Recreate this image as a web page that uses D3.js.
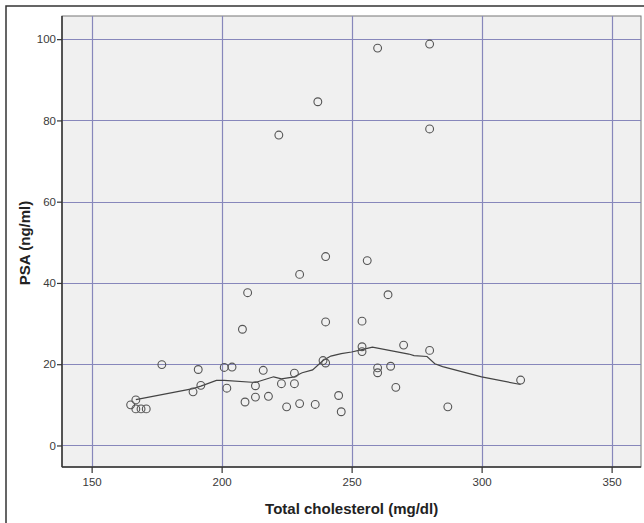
<!DOCTYPE html>
<html>
<head>
<meta charset="utf-8">
<script src="https://cdn.jsdelivr.net/npm/d3@7"></script>
<style>
  body { margin: 0; background: #fff; }
  svg { display: block; }
</style>
</head>
<body>
<div id="chart"></div>
<script>
// scatter points (cholesterol, PSA)
var cholesterol = [260, 280, 237, 222, 280, 240, 256, 230, 210, 264, 208, 240, 254, 270, 254, 254, 280,
    239, 240, 177, 191, 201, 204, 216, 228, 260, 260, 265, 192, 189, 202, 213, 223, 228, 267, 315,
    209, 213, 218, 225, 230, 236, 245, 246, 287, 165, 167, 167, 169, 171];
var psa = [97.8, 98.8, 84.6, 76.4, 77.9, 46.5, 45.5, 42.1, 37.6, 37.1, 28.6, 30.4, 30.6, 24.7, 24.3, 23.1, 23.4,
    20.9, 20.3, 19.9, 18.7, 19.2, 19.3, 18.5, 17.8, 19.1, 17.9, 19.5, 14.8, 13.2, 14.1, 14.7, 15.2, 15.2, 14.3, 16.1,
    10.7, 11.9, 12.1, 9.5, 10.3, 10.1, 12.3, 8.3, 9.5, 10.0, 11.2, 9.0, 9.0, 9.0];

// fit line
var fitX = [167, 172, 189, 192, 198, 201, 213, 216, 220, 223, 228, 230, 231, 235, 239, 242, 246, 250,
    254, 258, 272, 274, 279, 282, 285, 300, 315];
var fitY = [11.3, 11.9, 14.0, 14.6, 16.0, 16.0, 15.5, 16.1, 16.9, 16.4, 16.9, 17.6, 17.9, 18.6, 20.9, 22.0,
    22.6, 23.0, 23.6, 24.2, 22.5, 22.1, 21.9, 20.1, 19.4, 16.9, 15.0];

var xTicks = [150, 200, 250, 300, 350];
var yTicks = [0, 20, 40, 60, 80, 100];

var width = 644, height = 523;
var plotL = 62, plotR = 641, plotT = 16, plotB = 467;

var svg = d3.select("#chart").append("svg")
    .attr("width", width)
    .attr("height", height);

// outer frame
svg.append("rect")
    .attr("x", 6).attr("y", 6)
    .attr("width", 650).attr("height", 530)
    .attr("fill", "#fff")
    .attr("stroke", "#333")
    .attr("stroke-width", 1.5);

var x = d3.scaleLinear().domain([138.6, 361.3]).range([plotL, plotR]);
var y = d3.scaleLinear().domain([-5.3, 105.7]).range([plotB, plotT]);
var snap = v => Math.round(v) + 0.5;

svg.append("rect")
    .attr("x", plotL).attr("y", plotT)
    .attr("width", plotR - plotL).attr("height", plotB - plotT)
    .attr("fill", "#f0f0f0")
    .attr("stroke", "#777")
    .attr("stroke-width", 1);

// grid
svg.append("g").selectAll("line")
    .data(xTicks).enter().append("line")
    .attr("x1", d => snap(x(d))).attr("x2", d => snap(x(d)))
    .attr("y1", plotT).attr("y2", plotB)
    .attr("stroke", "#8787bb").attr("stroke-width", 1.2);

svg.append("g").selectAll("line")
    .data(yTicks).enter().append("line")
    .attr("x1", plotL).attr("x2", plotR)
    .attr("y1", d => snap(y(d))).attr("y2", d => snap(y(d)))
    .attr("stroke", "#8787bb").attr("stroke-width", 1.2);

// axes
var xAxis = svg.append("g")
    .attr("transform", "translate(0," + plotB + ")")
    .call(d3.axisBottom(x).tickValues(xTicks).tickSize(6).tickPadding(5));
var yAxis = svg.append("g")
    .attr("transform", "translate(" + plotL + ",0)")
    .call(d3.axisLeft(y).tickValues(yTicks).tickSize(5).tickPadding(1));

[xAxis, yAxis].forEach(function (g) {
    g.select(".domain").attr("stroke", "#333").attr("stroke-width", 1.5);
    g.selectAll(".tick line").attr("stroke", "#333").attr("stroke-width", 1.2);
    g.selectAll(".tick text")
        .attr("fill", "#3a3a3a")
        .style("font-family", "Liberation Sans, Arial, sans-serif")
        .style("font-size", "11.5px");
});
xAxis.select(".domain").attr("d", "M" + plotL + ",0H" + plotR);
yAxis.select(".domain").attr("d", "M0," + plotT + "V" + plotB);

// fit line
var pts = fitX.map((d, i) => [d, fitY[i]]);
svg.append("path")
    .datum(pts)
    .attr("d", d3.line().x(d => x(d[0])).y(d => y(d[1])))
    .attr("fill", "none")
    .attr("stroke", "#444")
    .attr("stroke-width", 1.2);

// points
svg.append("g").selectAll("circle")
    .data(cholesterol).enter().append("circle")
    .attr("cx", d => x(d))
    .attr("cy", (d, i) => y(psa[i]))
    .attr("r", 3.9)
    .attr("fill", "none")
    .attr("stroke", "#555")
    .attr("stroke-width", 1.1);

// titles
svg.append("text")
    .attr("x", x(250)).attr("y", 514)
    .attr("text-anchor", "middle")
    .style("font-family", "Liberation Sans, Arial, sans-serif")
    .style("font-weight", "bold")
    .style("font-size", "15px")
    .attr("fill", "#222")
    .text("Total cholesterol (mg/dl)");

svg.append("text")
    .attr("transform", "translate(30," + 243 + ") rotate(-90)")
    .attr("text-anchor", "middle")
    .style("font-family", "Liberation Sans, Arial, sans-serif")
    .style("font-weight", "bold")
    .style("font-size", "15px")
    .attr("fill", "#222")
    .text("PSA (ng/ml)");
</script>
</body>
</html>
